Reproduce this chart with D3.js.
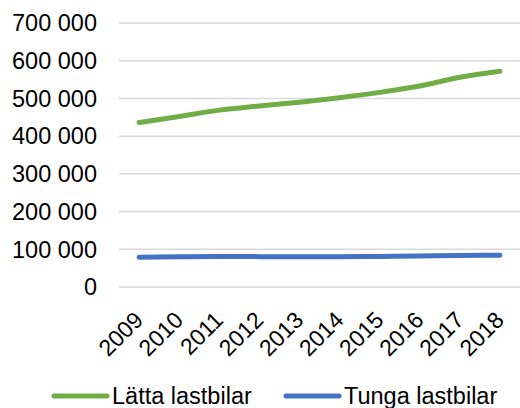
<!DOCTYPE html>
<html>
<head>
<meta charset="utf-8">
<script src="https://cdn.jsdelivr.net/npm/d3@7"></script>
<style>
  body { margin: 0; background: #fff; }
  svg { font-family: "Liberation Sans", Arial, sans-serif; }
</style>
</head>
<body>
<svg width="520" height="408"></svg>
<script>
const years = ['2009','2010','2011','2012','2013','2014','2015','2016','2017','2018'];
const latta = [436000, 452000, 469000, 480000, 490000, 502000, 516000, 533000, 556000, 572000];
const tunga = [79000, 80000, 81000, 80500, 80000, 80500, 81000, 82000, 83500, 84000];
const yTicks = [0, 100000, 200000, 300000, 400000, 500000, 600000, 700000];

const svg = d3.select('svg');
const margin = {left: 119, right: 0, top: 23, bottom: 121};
const width = +svg.attr('width');
const height = +svg.attr('height');

const x = d3.scaleBand()
  .domain(years)
  .range([margin.left, width - margin.right]);

const y = d3.scaleLinear()
  .domain([0, 700000])
  .range([height - margin.bottom, margin.top]);

const fmt = v => d3.format(',')(v).replace(/,/g, ' ');

// gridlines
svg.append('g')
  .selectAll('line')
  .data(yTicks)
  .enter()
  .append('line')
  .attr('x1', margin.left)
  .attr('x2', width - margin.right)
  .attr('y1', d => y(d))
  .attr('y2', d => y(d))
  .attr('stroke', '#d9d9d9')
  .attr('stroke-width', 1.5);

// y labels
svg.append('g')
  .selectAll('text')
  .data(yTicks)
  .enter()
  .append('text')
  .attr('x', 97)
  .attr('y', d => y(d))
  .attr('dy', '0.35em')
  .attr('text-anchor', 'end')
  .attr('font-size', 23.5)
  .attr('fill', '#000')
  .text(fmt);

// x labels
svg.append('g')
  .selectAll('text')
  .data(years)
  .enter()
  .append('text')
  .attr('transform', d => `translate(${x(d) + x.bandwidth() / 2 - 6},${height - margin.bottom + 23}) rotate(-45)`)
  .attr('text-anchor', 'end')
  .attr('dy', '0.7em')
  .attr('font-size', 23)
  .attr('fill', '#000')
  .text(d => d);

const line = d3.line()
  .x((d, i) => x(years[i]) + x.bandwidth() / 2)
  .y(d => y(d))
  .curve(d3.curveMonotoneX);

const series = [
  {name: 'Lätta lastbilar', values: latta, color: '#70ad47'},
  {name: 'Tunga lastbilar', values: tunga, color: '#4472c4'}
];

svg.append('g')
  .selectAll('path')
  .data(series)
  .enter()
  .append('path')
  .attr('d', d => line(d.values))
  .attr('fill', 'none')
  .attr('stroke', d => d.color)
  .attr('stroke-width', 5)
  .attr('stroke-linecap', 'round');

// legend
const legendX = [54, 286];
const legend = svg.append('g')
  .selectAll('g')
  .data(series)
  .enter()
  .append('g')
  .attr('transform', (d, i) => `translate(${legendX[i]},396)`);

legend.append('line')
  .attr('x1', 0)
  .attr('x2', 53)
  .attr('stroke', d => d.color)
  .attr('stroke-width', 5)
  .attr('stroke-linecap', 'round');

legend.append('text')
  .attr('x', 58)
  .attr('dy', '0.35em')
  .attr('font-size', 23.5)
  .attr('fill', '#000')
  .text(d => d.name);
</script>
</body>
</html>
